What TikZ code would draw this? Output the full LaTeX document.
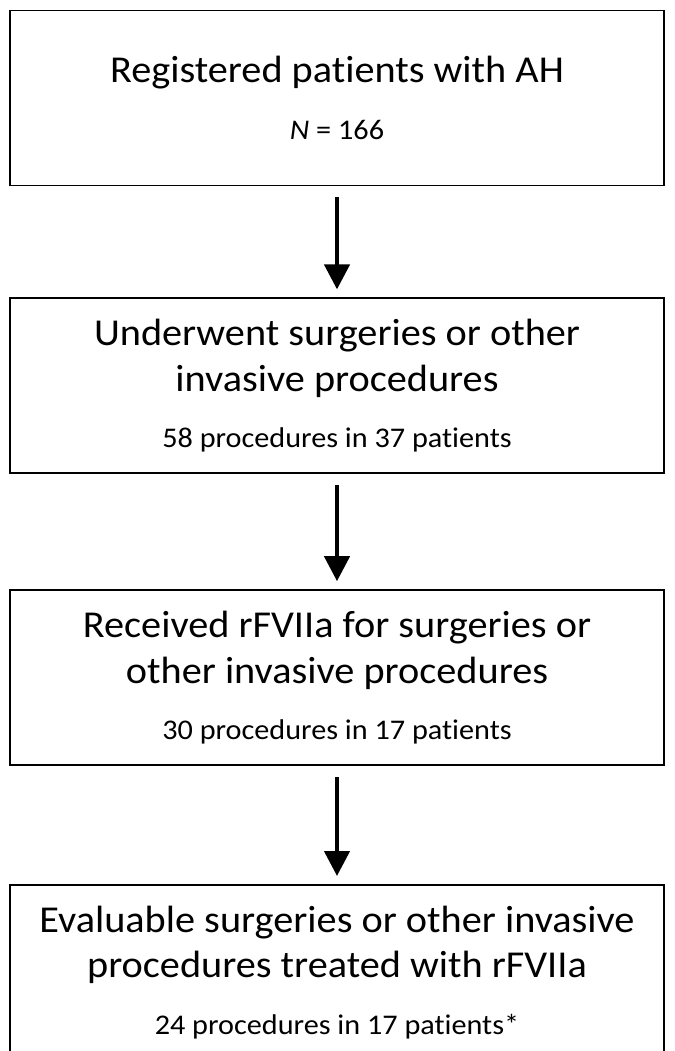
\documentclass[tikz,border=0pt]{standalone}
\usepackage{fontspec}
\setmainfont{Carlito}[Ligatures=NoCommon, FakeStretch=1.06]
\usepackage{tikz}
\usetikzlibrary{arrows.meta,positioning}

\newcommand{\sub}[1]{\\[11pt]{\fontsize{28.5}{34}\selectfont #1}}

\begin{document}
\begin{tikzpicture}[
    x=1pt, y=1pt,
    stage/.style={
        rectangle, draw=black, line width=1.8pt, fill=white,
        minimum width=654pt, minimum height=175pt,
        align=center, inner sep=0pt,
        font=\fontsize{38}{45.5}\selectfont
    },
    flow/.style={-{Triangle[width=25pt,length=25pt]}, line width=4.4pt}
]

\useasboundingbox (0,0) rectangle (674,-1051);

\node[stage] (reg) at (337,-98) {Registered patients with AH\sub{\textit{N} = 166}};
\node[stage, below=111pt of reg] (surg) {Underwent surgeries or other\\ invasive procedures\sub{58 procedures in 37 patients}};
\node[stage, below=115pt of surg] (rfvii) {Received rFVIIa for surgeries or\\ other invasive procedures\sub{30 procedures in 17 patients}};
\node[stage, below=118pt of rfvii] (eval) {Evaluable surgeries or other invasive\\ procedures treated with rFVIIa\sub{24 procedures in 17 patients*}};

\draw[flow] ([yshift=-11pt]reg.south) -- ([yshift=8pt]surg.north);
\draw[flow] ([yshift=-11pt]surg.south) -- ([yshift=8pt]rfvii.north);
\draw[flow] ([yshift=-11pt]rfvii.south) -- ([yshift=8pt]eval.north);

\end{tikzpicture}
\end{document}
